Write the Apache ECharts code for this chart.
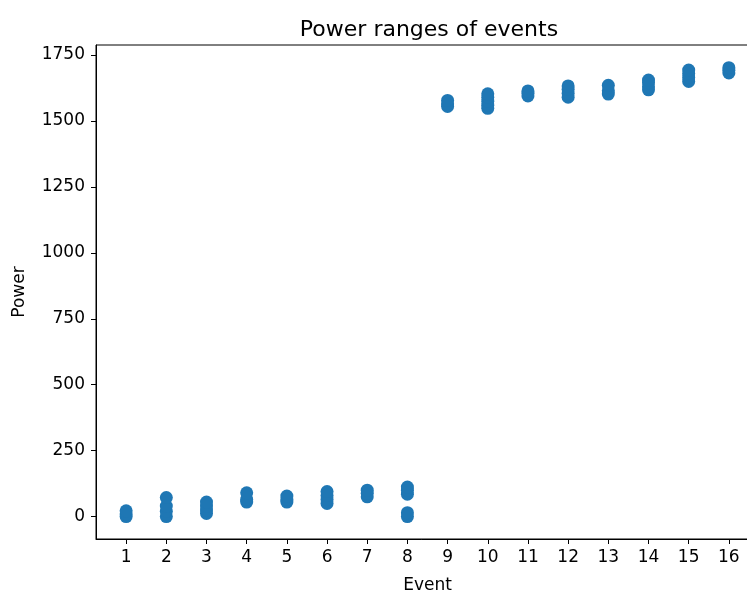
<!DOCTYPE html>
<html>
<head>
<meta charset="utf-8">
<title>Power ranges of events</title>
<script src="https://cdn.jsdelivr.net/npm/echarts@6/dist/echarts.min.js"></script>
<style>
  html, body { margin: 0; padding: 0; background: #fff; }
  #chart { width: 747px; height: 592px; }
</style>
</head>
<body>
<div id="chart"></div>
<script>
// event numbers on the x axis
var eventIds = [1, 2, 3, 4, 5, 6, 7, 8, 9, 10, 11, 12, 13, 14, 15, 16];

// power readings per event
var powerValues = [
  [0, 10, 22],
  [0, 20, 40, 72],
  [12, 25, 40, 55],
  [55, 65, 90],
  [55, 65, 78],
  [50, 65, 80, 95],
  [75, 88, 100],
  [0, 15, 85, 100, 112],
  [1555, 1565, 1578],
  [1548, 1560, 1575, 1590, 1603],
  [1595, 1605, 1614],
  [1590, 1605, 1620, 1633],
  [1602, 1615, 1635],
  [1618, 1630, 1645, 1655],
  [1650, 1665, 1680, 1693],
  [1682, 1692, 1702]
];

var yTicks = [0, 250, 500, 750, 1000, 1250, 1500, 1750];

var points = [];
for (var i = 0; i < eventIds.length; i++) {
  for (var j = 0; j < powerValues[i].length; j++) {
    points.push([eventIds[i], powerValues[i][j]]);
  }
}

var font = 'DejaVu Sans';
var plain = function (v) { return String(v); };
var chart = echarts.init(document.getElementById('chart'), null, { renderer: 'canvas' });

chart.setOption({
  animation: false,
  title: {
    text: 'Power ranges of events',
    left: 424,
    top: 14,
    textAlign: 'center',
    textStyle: { fontFamily: font, fontSize: 22, fontWeight: 'normal', color: '#000' }
  },
  grid: {
    left: 96, top: 45, bottom: 53, right: -12,
    outerBoundsMode: 'none',
    containLabel: false,
    show: true, borderColor: '#000', borderWidth: 1, backgroundColor: 'transparent'
  },
  xAxis: {
    type: 'value',
    min: 0.25,
    max: 16.75,
    name: 'Event',
    nameLocation: 'middle',
    nameGap: 38,
    nameTextStyle: { fontFamily: font, fontSize: 17, color: '#000' },
    splitLine: { show: false },
    axisLine: { show: true, onZero: false, lineStyle: { color: '#000', width: 1 } },
    axisTick: { show: true, length: 5, lineStyle: { color: '#000' }, customValues: eventIds },
    axisLabel: { fontFamily: font, fontSize: 17, color: '#000', margin: 10, formatter: plain, customValues: eventIds }
  },
  yAxis: {
    type: 'value',
    min: -85,
    max: 1788,
    name: 'Power',
    nameLocation: 'middle',
    nameGap: 68,
    nameTextStyle: { fontFamily: font, fontSize: 17, color: '#000' },
    splitLine: { show: false },
    axisLine: { show: true, onZero: false, lineStyle: { color: '#000', width: 1 } },
    axisTick: { show: true, length: 5, lineStyle: { color: '#000' }, customValues: yTicks },
    axisLabel: { fontFamily: font, fontSize: 17, color: '#000', margin: 11, formatter: plain, customValues: yTicks }
  },
  series: [{
    type: 'scatter',
    data: points,
    symbol: 'circle',
    symbolSize: 13,
    itemStyle: { color: '#1f77b4', opacity: 1 }
  }]
});
</script>
</body>
</html>
